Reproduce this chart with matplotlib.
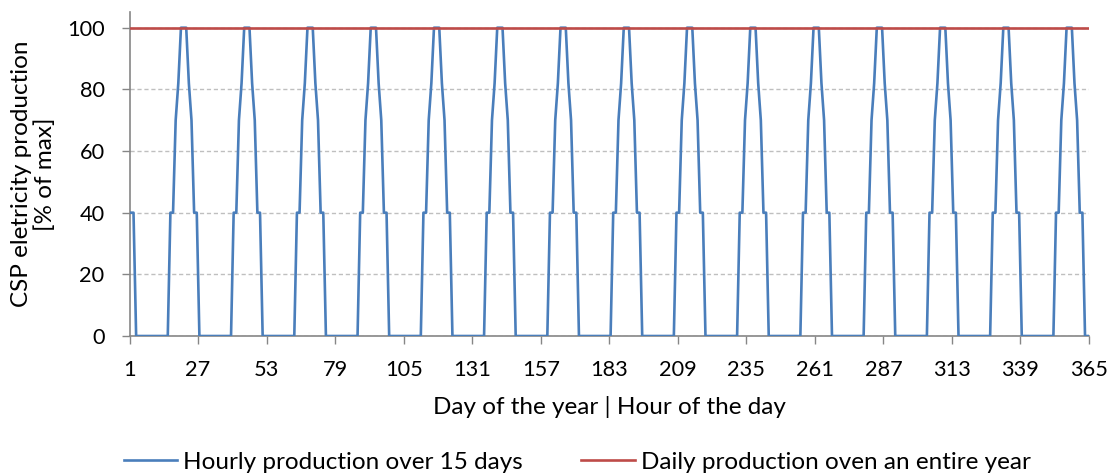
import matplotlib.pyplot as plt
import numpy as np

plt.rcParams['font.family'] = ['Lato', 'DejaVu Sans']

# Hourly production (% of max): first partial hours, then one 24-hour cycle that repeats
first_hours = [40, 40, 40]
day_profile = [0, 0, 0, 0, 0, 0, 0, 0, 0, 0, 0, 0, 0,
               40, 40, 70, 82, 100, 100, 100, 82, 70, 40, 40]
n_days = 15
n_points = 365

hourly = np.concatenate([first_hours, np.tile(day_profile, n_days + 1)])[:n_points]
hour_pos = np.arange(n_points) + 0.5

# Daily production over the whole year (% of max)
days = np.arange(1, 366)
daily = [100] * len(days)

x_ticks = list(range(1, 366, 26))
y_ticks = [0, 20, 40, 60, 80, 100]

fig = plt.figure(figsize=(11.12, 4.76), dpi=100)
ax = fig.add_axes([0.1165, 0.2941, 0.8628, 0.6801])

ax.plot(hour_pos, hourly, color='#4A7EBB', linewidth=1.9,
        label='Hourly production over 15 days', zorder=3)
ax.plot(days, daily, color='#BE4B48', linewidth=1.9,
        label='Daily production oven an entire year', zorder=4)

ax.set_xlim(1, 365)
ax.set_ylim(0, 105)
ax.set_xticks(x_ticks)
ax.set_yticks(y_ticks)
ax.tick_params(axis='both', labelsize=15.7, direction='out', length=6,
               color='#868686', width=1)
ax.tick_params(axis='x', pad=11)
ax.tick_params(axis='y', pad=12)

ax.grid(axis='y', color='#BFBFBF', linestyle=(0, (3, 2)), linewidth=1)
for s in ['top', 'right']:
    ax.spines[s].set_visible(False)
for s in ['left', 'bottom']:
    ax.spines[s].set_color('#868686')
    ax.spines[s].set_linewidth(1.2)

ax.set_xlabel('Day of the year | Hour of the day', fontsize=17.5, labelpad=12)
ax.set_ylabel('CSP eletricity production\n[% of max]', fontsize=17.5, labelpad=8,
              linespacing=1.15)

fig.legend(loc='center', bbox_to_anchor=(0.519, 0.029), ncol=2, frameon=False,
           fontsize=17.5, handlelength=2.2, handletextpad=0.25, columnspacing=2.4)

plt.savefig('out.png', dpi=100)
